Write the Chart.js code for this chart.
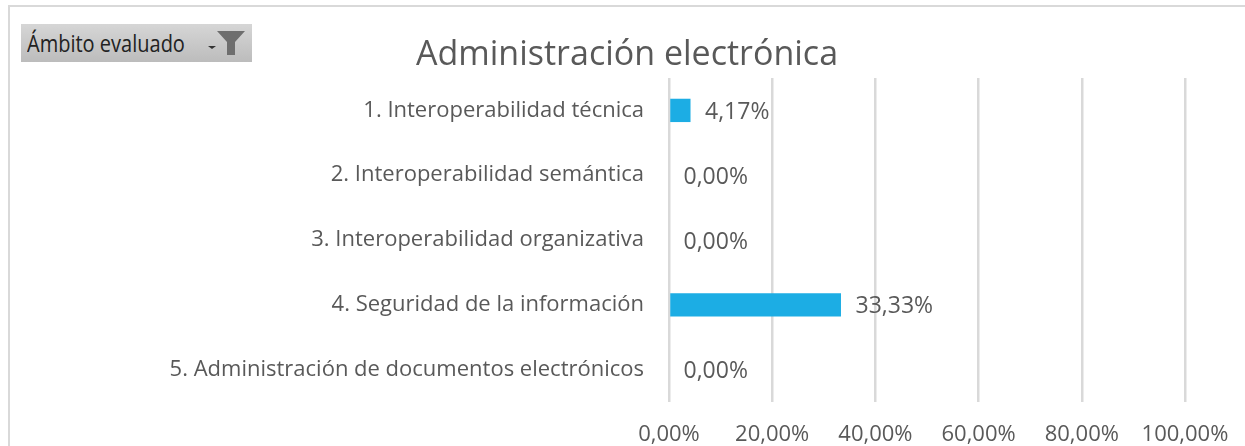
<!DOCTYPE html>
<html><head><meta charset="utf-8">
<style>
html,body{margin:0;padding:0;background:#fff;width:1245px;height:446px;overflow:hidden}
#wrap{position:absolute;left:0;top:0;width:1245px;height:446px}
canvas{position:absolute;left:0;top:0}
#frameT{position:absolute;left:8px;top:5px;width:1237px;height:2px;background:#d9d9d9}
#frameL{position:absolute;left:8px;top:5px;width:2px;height:441px;background:#d9d9d9}
#slicer{position:absolute;left:21px;top:24px;width:231px;height:38px;background:linear-gradient(#d6d6d6,#bcbcbc);color:#222;line-height:38px}
#slicer span{position:absolute;left:6px;top:0;font-family:"Open Sans";font-size:23px;transform:scaleX(.87);transform-origin:left center;white-space:nowrap}
#slicer i{position:absolute;left:187px;top:22px;width:0;height:0;border-left:4px solid transparent;border-right:4px solid transparent;border-top:3px solid #333}
#slicer svg{position:absolute;left:196px;top:6px}
</style></head><body>
<div id="wrap">
<canvas id="c" width="1245" height="446"></canvas>
<div id="frameT"></div><div id="frameL"></div>
<div id="slicer"><span>Ámbito evaluado</span><i></i><svg width="28" height="26"><path d="M0 1H28L18 12V25H10V12Z" fill="#6e6e6e"/></svg></div>
</div>
<script src="https://cdn.jsdelivr.net/npm/chart.js@4"></script>
<script>
const categories=["1. Interoperabilidad técnica","2. Interoperabilidad semántica","3. Interoperabilidad organizativa","4. Seguridad de la información","5. Administración de documentos electrónicos"];
const values=[4.17,0,0,33.33,0];
const valueLabels=["4,17%","0,00%","0,00%","33,33%","0,00%"];
const titleText="Administración electrónica";
const FONT='"Open Sans"';
const labelPlugin={id:'lbl',afterDatasetsDraw(ch){
 const c=ch.ctx;c.save();c.font='23px '+FONT;c.fillStyle='#595959';c.textBaseline='middle';c.textAlign='left';
 ch.getDatasetMeta(0).data.forEach((b,i)=>c.fillText(valueLabels[i],b.x+14.5,b.y+2));c.restore();}};
new Chart(document.getElementById('c'),{type:'bar',
 data:{labels:categories,datasets:[{data:values,backgroundColor:'#1cade4',barPercentage:.36,categoryPercentage:1}]},
 options:{responsive:false,animation:false,indexAxis:'y',
  layout:{padding:{left:0,right:0,top:78,bottom:0}},
  plugins:{legend:{display:false},tooltip:{enabled:false},
   title:{display:false}},
  scales:{
   x:{min:0,max:100,afterFit(s){s.height=44;s.paddingLeft=0;s.paddingRight=60},ticks:{stepSize:20,color:'#595959',font:{family:FONT,size:22},padding:20,maxRotation:0,callback:v=>v.toFixed(2).replace('.',',')+'%'},
      grid:{color:'#d9d9d9',lineWidth:2.5,drawTicks:false},border:{display:false}},
   y:{afterFit(s){s.width=669},ticks:{color:'#595959',font:{family:FONT,size:22},padding:17},grid:{display:false},border:{display:false}}
  }},
 plugins:[labelPlugin,{id:'ttl',afterDraw(ch){const c=ch.ctx;c.save();c.font='34px '+FONT;c.fillStyle='#595959';c.textAlign='center';c.textBaseline='middle';c.fillText(titleText,627,55);c.restore();}}]
});
</script></body></html>
